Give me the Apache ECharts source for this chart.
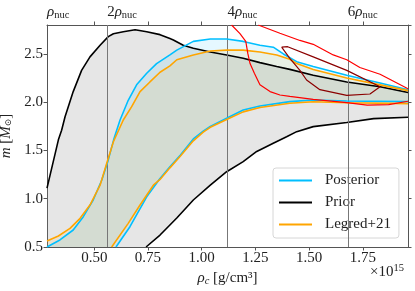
<!DOCTYPE html>
<html>
<head>
<meta charset="utf-8">
<script src="https://cdn.jsdelivr.net/npm/echarts@6/dist/echarts.min.js"></script>
<style>
html,body{margin:0;padding:0;background:#fff;}
#chart{width:415px;height:291px;}
</style>
</head>
<body>
<div id="chart"></div>
<script>
// ---- data (x in 1e15 g/cm^3, y in solar masses) ----
const rhoNuc = 0.28;
const xTicks = [0.5, 0.75, 1.0, 1.25, 1.5, 1.75];
const topMultiples = [1, 2, 4, 6];
const topLabels = ['{i|ρ}{s|nuc}', '2{i|ρ}{s|nuc}', '4{i|ρ}{s|nuc}', '6{i|ρ}{s|nuc}'];
const vLineMultiples = [2, 4, 6];
const legendNames = ['Posterior', 'Prior', 'Legred+21'];

const priorUpper = [[0.28,1.11],[0.333,1.61],[0.348,1.71],[0.364,1.85],[0.402,2.11],[0.441,2.33],[0.48,2.47],[0.527,2.59],[0.565,2.68],[0.589,2.71],[0.635,2.73],[0.69,2.75],[0.744,2.73],[0.806,2.70],[0.852,2.66],[0.868,2.645],[0.914,2.59],[0.961,2.56],[1.04,2.52],[1.116,2.49],[1.193,2.455],[1.271,2.41],[1.349,2.37],[1.41,2.34],[1.519,2.28],[1.675,2.21],[1.83,2.16],[1.96,2.10]];
const priorLower = [[0.741,0.5],[0.806,0.624],[0.852,0.728],[0.884,0.80],[0.961,0.987],[1.04,1.14],[1.116,1.28],[1.193,1.384],[1.256,1.49],[1.333,1.575],[1.395,1.643],[1.442,1.695],[1.519,1.747],[1.675,1.79],[1.80,1.83],[1.96,1.844]];

const postUpper = [[0.28,0.5],[0.34,0.573],[0.402,0.676],[0.449,0.814],[0.495,0.987],[0.535,1.194],[0.565,1.40],[0.59,1.61],[0.62,1.816],[0.658,2.02],[0.697,2.18],[0.744,2.30],[0.79,2.40],[0.852,2.49],[0.884,2.54],[0.961,2.63],[1.04,2.655],[1.116,2.655],[1.193,2.63],[1.271,2.59],[1.333,2.57],[1.38,2.50],[1.442,2.42],[1.519,2.37],[1.675,2.28],[1.83,2.20],[1.96,2.13]];
const postLower = [[0.601,0.5],[0.666,0.71],[0.744,1.02],[0.806,1.21],[0.852,1.33],[0.90,1.45],[0.961,1.62],[1.007,1.70],[1.04,1.75],[1.116,1.834],[1.193,1.92],[1.271,1.96],[1.41,2.006],[1.519,2.023],[1.675,2.013],[1.96,2.006]];

const legUpper = [[0.28,0.562],[0.333,0.614],[0.387,0.693],[0.434,0.797],[0.48,0.935],[0.527,1.14],[0.558,1.367],[0.589,1.59],[0.635,1.816],[0.674,1.954],[0.713,2.11],[0.759,2.21],[0.806,2.31],[0.852,2.376],[0.884,2.44],[0.961,2.49],[1.04,2.53],[1.116,2.54],[1.193,2.54],[1.271,2.52],[1.349,2.49],[1.41,2.445],[1.442,2.40],[1.519,2.34],[1.675,2.25],[1.83,2.18],[1.96,2.12]];
const legLower = [[0.581,0.5],[0.658,0.745],[0.713,0.935],[0.775,1.14],[0.806,1.20],[0.852,1.32],[0.90,1.44],[0.961,1.60],[1.007,1.69],[1.04,1.74],[1.116,1.82],[1.193,1.90],[1.271,1.945],[1.41,1.99],[1.519,2.005],[1.675,1.995],[1.96,1.985]];

const redA = [[1.139,2.80],[1.178,2.71],[1.205,2.63],[1.215,2.50],[1.225,2.40],[1.245,2.30],[1.271,2.18],[1.318,2.11],[1.364,2.075],[1.41,2.06],[1.519,2.03],[1.675,1.995],[1.77,1.97],[1.87,1.975],[1.96,2.01]];
const redB = [[1.263,2.80],[1.364,2.715],[1.457,2.64],[1.519,2.60],[1.612,2.49],[1.675,2.44],[1.736,2.36],[1.83,2.29],[1.96,2.14]];
const darkRedLoop = [[1.372,2.57],[1.40,2.575],[1.519,2.47],[1.675,2.33],[1.83,2.16],[1.783,2.085],[1.675,2.07],[1.55,2.13],[1.488,2.23],[1.457,2.33],[1.41,2.455],[1.372,2.57]];

// ---- chart ----
const xMin = rhoNuc, xMax = 7 * rhoNuc, yMin = 0.5, yMax = 2.8;
const FONT = '"Liberation Serif", "DejaVu Serif", serif';
const C_BLUE = '#00bfff', C_ORANGE = '#ffa500', C_BLACK = '#000000';
const LINE_ICON = 'path://M0,0L33,0L33,2L0,2Z';

function band(upper, lower, closeCorner, fill, z) {
  return {
    type: 'custom', silent: true, clip: true, z: z,
    data: [0],
    renderItem: function (params, api) {
      let pts = upper.concat(lower.slice().reverse());
      if (closeCorner) pts = pts.concat([[xMin, yMin]]);
      return { type: 'polygon', shape: { points: pts.map(p => api.coord(p)) }, style: { fill: fill } };
    }
  };
}
function curve(name, data, color, width, z) {
  return { name: name, type: 'line', data: data, symbol: 'none', showSymbol: false, silent: true,
    lineStyle: { color: color, width: width }, itemStyle: { color: color }, z: z, animation: false, clip: true };
}

const chart = echarts.init(document.getElementById('chart'));
chart.setOption({
  animation: false,
  grid: { left: 47, right: 7, top: 25, bottom: 44, containLabel: false, outerBoundsMode: 'none' },
  textStyle: { fontFamily: FONT },
  xAxis: [{
    type: 'value', min: xMin, max: xMax, position: 'bottom',
    axisLine: { show: true, onZero: false, lineStyle: { color: '#555', width: 1 } },
    axisTick: { show: true, length: 3.5, customValues: xTicks, lineStyle: { color: '#555' } },
    axisLabel: { customValues: xTicks, formatter: v => v.toFixed(2), fontFamily: FONT, fontSize: 15, color: '#222', margin: 4 },
    splitLine: { show: false },
    name: '{i|ρ}{s|c} [g/cm³]', nameLocation: 'middle', nameGap: 21,
    nameTextStyle: { fontFamily: FONT, fontSize: 15, color: '#222',
      rich: { i: { fontFamily: FONT, fontSize: 15, fontStyle: 'italic', color: '#222' },
              s: { fontFamily: FONT, fontSize: 10.5, fontStyle: 'italic', color: '#222', padding: [6, 0, 0, 0] } } }
  }, {
    type: 'value', min: xMin, max: xMax, position: 'top',
    axisLine: { show: true, onZero: false, lineStyle: { color: '#555', width: 1 } },
    axisTick: { show: true, length: 3.5, customValues: xTicks, lineStyle: { color: '#555' } },
    axisLabel: {
      customValues: topMultiples.map(m => m * rhoNuc), align: 'left', margin: 4,
      formatter: function (v) { const i = topMultiples.findIndex(m => Math.abs(m * rhoNuc - v) < 1e-6); return i >= 0 ? topLabels[i] : ''; },
      fontFamily: FONT, fontSize: 15, color: '#222',
      rich: { i: { fontFamily: FONT, fontSize: 15, fontStyle: 'italic', color: '#222' },
              s: { fontFamily: FONT, fontSize: 10.5, color: '#222', padding: [6, 0, 0, 0] } }
    },
    splitLine: { show: false }
  }],
  yAxis: [{
    type: 'value', min: yMin, max: yMax, interval: 0.5, position: 'left',
    axisLine: { show: true, onZero: false, lineStyle: { color: '#555', width: 1 } },
    axisTick: { show: true, length: 3.5, lineStyle: { color: '#555' } },
    axisLabel: { formatter: v => v.toFixed(1), fontFamily: FONT, fontSize: 15, color: '#222', margin: 4, showMaxLabel: false },
    splitLine: { show: false },
    name: '{i|m} [{i|M}{s|⊙}]', nameLocation: 'middle', nameGap: 28,
    nameTextStyle: { fontFamily: FONT, fontSize: 15, color: '#222',
      rich: { i: { fontFamily: FONT, fontSize: 15, fontStyle: 'italic', color: '#222' },
              s: { fontFamily: '"DejaVu Serif", serif', fontSize: 9, color: '#222', padding: [6, 0, 0, 0] } } }
  }, {
    type: 'value', min: yMin, max: yMax, interval: 0.5, position: 'right',
    axisLine: { show: true, onZero: false, lineStyle: { color: '#555', width: 1 } },
    axisTick: { show: true, length: 3.5, lineStyle: { color: '#555' } },
    axisLabel: { show: false }, splitLine: { show: false }
  }],
  legend: {
    data: legendNames.map(n => ({ name: n, icon: LINE_ICON })),
    orient: 'vertical', left: 273, top: 168,
    padding: [5, 8, 6, 6], itemGap: 7, itemWidth: 33, itemHeight: 2,
    backgroundColor: 'rgba(255,255,255,0.85)', borderColor: '#d6d6d6', borderWidth: 1, borderRadius: 3,
    textStyle: { fontFamily: FONT, fontSize: 15, color: '#222', padding: [0, 0, 0, 8], lineHeight: 15 },
    selectedMode: false
  },
  graphic: [{
    type: 'text', left: 370, top: 263, silent: true,
    style: { text: '×10{p|15}', fontFamily: FONT, fontSize: 15, fill: '#222',
      rich: { p: { fontFamily: FONT, fontSize: 10.5, fill: '#222', padding: [0, 0, 8, 0] } } }
  }],
  series: [
    band(priorUpper, priorLower, true, 'rgba(128,128,128,0.2)', 1),
    band(postUpper, postLower, false, 'rgba(0,191,255,0.1)', 1),
    band(legUpper, legLower, true, 'rgba(255,165,0,0.1)', 1),
    {
      type: 'line', data: [], silent: true, z: 2,
      markLine: {
        silent: true, symbol: 'none', animation: false,
        label: { show: false },
        lineStyle: { color: '#777', width: 1, type: 'solid' },
        data: vLineMultiples.map(m => ({ xAxis: m * rhoNuc }))
      }
    },
    curve('Prior', priorUpper, C_BLACK, 1.6, 4),
    curve('Prior', priorLower, C_BLACK, 1.6, 4),
    curve('Posterior', postUpper, C_BLUE, 1.6, 5),
    curve('Posterior', postLower, C_BLUE, 1.6, 5),
    curve('Legred+21', legUpper, C_ORANGE, 1.6, 6),
    curve('Legred+21', legLower, C_ORANGE, 1.6, 6),
    curve('redA', redA, '#ff0000', 1.2, 7),
    curve('redB', redB, '#ff0000', 1.2, 7),
    curve('darkred', darkRedLoop, '#8b0000', 1.2, 7)
  ]
});
</script>
</body>
</html>
